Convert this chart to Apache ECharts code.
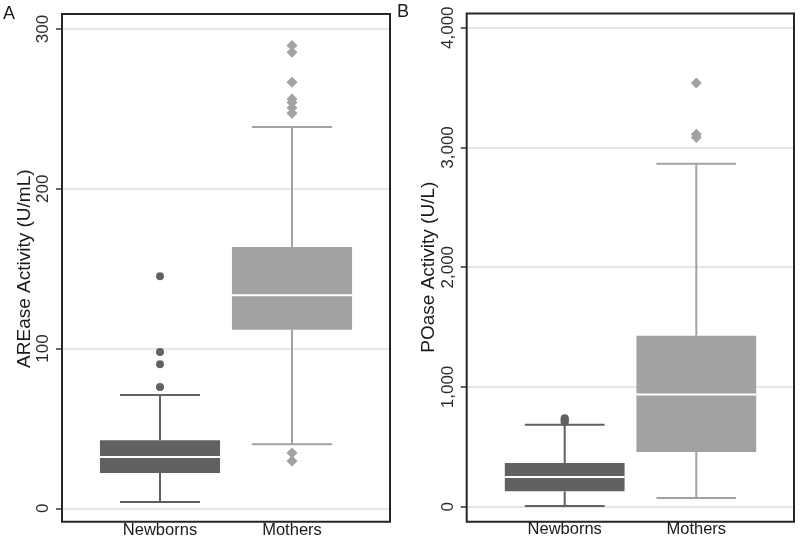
<!DOCTYPE html>
<html>
<head>
<meta charset="utf-8">
<script src="https://cdn.jsdelivr.net/npm/echarts@6/dist/echarts.min.js"></script>
<style>
html,body{margin:0;padding:0;background:#fff;}
#chart{width:800px;height:539px;}
</style>
</head>
<body>
<div id="chart"></div>
<script>
// ---- data ----
const categories = ['Newborns', 'Mothers'];
// [min whisker, Q1, median, Q3, max whisker]
const areaseNewborns = [3.8, 21.9, 31.9, 42.4, 70.8];
const areaseMothers = [39.9, 111.7, 133.2, 163.4, 238.6];
const areaseNewbornsOutliers = [75.8, 90.0, 97.7, 145.1];
const areaseMothersOutliers = [29.4, 34.4, 247.3, 250.7, 254.0, 256.1, 266.6, 285.5, 289.7];

const poaseNewborns = [5, 128, 248, 365, 684];
const poaseMothers = [73, 457, 937, 1427, 2863];
const poaseNewbornsOutliers = [705, 718, 728, 738];
const poaseMothersOutliers = [3083, 3111, 3539];

const areaseTicks = [0, 100, 200, 300];
const poaseTicks = [0, 1000, 2000, 3000, 4000];

const panelLabels = ['A', 'B'];
const yNames = ['AREase Activity (U/mL)', 'POase Activity (U/L)'];

// ---- styles ----
const FONT = '"Liberation Sans", Arial, Helvetica, sans-serif';
const DARK = '#616161';
const LIGHT = '#a2a2a2';
const catColors = [DARK, LIGHT];

function boxRender(params, api) {
  const idx = api.value(0);
  const color = catColors[idx];
  const bw = api.size([1, 0])[0];
  const half = bw * 0.455;
  const cap = bw * 0.303;
  const pLow = api.coord([idx, api.value(1)]);
  const pQ1 = api.coord([idx, api.value(2)]);
  const pMed = api.coord([idx, api.value(3)]);
  const pQ3 = api.coord([idx, api.value(4)]);
  const pHigh = api.coord([idx, api.value(5)]);
  const x = pLow[0];
  const ls = {stroke: color, lineWidth: 2};
  return {
    type: 'group',
    children: [
      {type: 'line', shape: {x1: x, y1: pLow[1], x2: x, y2: pQ1[1]}, style: ls},
      {type: 'line', shape: {x1: x, y1: pQ3[1], x2: x, y2: pHigh[1]}, style: ls},
      {type: 'line', shape: {x1: x - cap, y1: pLow[1], x2: x + cap, y2: pLow[1]}, style: ls},
      {type: 'line', shape: {x1: x - cap, y1: pHigh[1], x2: x + cap, y2: pHigh[1]}, style: ls},
      {type: 'rect', shape: {x: x - half, y: pQ3[1], width: 2 * half, height: pQ1[1] - pQ3[1]}, style: {fill: color}},
      {type: 'line', shape: {x1: x - half, y1: pMed[1], x2: x + half, y2: pMed[1]}, style: {stroke: '#ffffff', lineWidth: 2}}
    ]
  };
}

function boxData(a, b) {
  return [[0].concat(a), [1].concat(b)];
}
function outlierData(idx, arr) {
  return arr.map(v => [idx, v]);
}

const panels = [
  {axisGrid: {left: 62, top: 29, width: 328, height: 479.3},
   dataGrid: {left: 94, top: 29, width: 264, height: 479.3},
   frame: {x: 62, y: 14, width: 328, height: 507.7},
   ticks: areaseTicks, nb: areaseNewborns, mo: areaseMothers,
   nbOut: areaseNewbornsOutliers, moOut: areaseMothersOutliers,
   letterPos: [3, 5]},
  {axisGrid: {left: 466.7, top: 27.7, width: 327.3, height: 479},
   dataGrid: {left: 498.9, top: 27.7, width: 263.2, height: 479},
   frame: {x: 466.7, y: 13.5, width: 327.3, height: 508.2},
   ticks: poaseTicks, nb: poaseNewborns, mo: poaseMothers,
   nbOut: poaseNewbornsOutliers, moOut: poaseMothersOutliers,
   letterPos: [397, 3]}
];

const grid = [], xAxis = [], yAxis = [], series = [], graphic = [];
panels.forEach((p, i) => {
  const tMin = p.ticks[0], tMax = p.ticks[p.ticks.length - 1];
  const tInt = p.ticks[1] - p.ticks[0];
  const ga = grid.length;
  grid.push(p.axisGrid);
  grid.push(p.dataGrid);
  // axis grid
  xAxis.push({gridIndex: ga, type: 'value', show: false, min: 0, max: 1});
  yAxis.push({
    gridIndex: ga, type: 'value', min: tMin, max: tMax, interval: tInt,
    name: yNames[i], nameLocation: 'middle', nameGap: 28, nameRotate: 90,
    nameTextStyle: {fontFamily: FONT, fontSize: 19, color: '#1a1a1a'},
    axisLine: {show: false},
    axisTick: {show: true, length: 6, lineStyle: {color: '#333', width: 1.5}},
    axisLabel: {rotate: 90, margin: 10, fontFamily: FONT, fontSize: 17, color: '#2a2a2a',
      formatter: v => v.toLocaleString('en-US')},
    splitLine: {show: true, lineStyle: {color: '#dedede', width: 1.5}}
  });
  // data grid
  xAxis.push({gridIndex: ga + 1, type: 'category', data: categories,
    axisLine: {show: false}, axisTick: {show: false},
    axisLabel: {margin: 14, fontFamily: FONT, fontSize: 16.5, color: '#1a1a1a'}});
  yAxis.push({gridIndex: ga + 1, type: 'value', min: tMin, max: tMax, show: false, splitLine: {show: false}});
  series.push({
    type: 'custom', xAxisIndex: ga + 1, yAxisIndex: ga + 1,
    renderItem: boxRender, data: boxData(p.nb, p.mo), z: 3
  });
  series.push({
    type: 'scatter', xAxisIndex: ga + 1, yAxisIndex: ga + 1,
    symbol: 'circle', symbolSize: 8, itemStyle: {color: DARK, opacity: 1},
    data: outlierData(0, p.nbOut), z: 4
  });
  series.push({
    type: 'scatter', xAxisIndex: ga + 1, yAxisIndex: ga + 1,
    symbol: 'diamond', symbolSize: 11, itemStyle: {color: LIGHT, opacity: 1},
    data: outlierData(1, p.moOut), z: 4
  });
  graphic.push({type: 'rect', shape: p.frame, z: 100, silent: true,
    style: {fill: null, stroke: '#262626', lineWidth: 2}});
  graphic.push({type: 'text', left: p.letterPos[0], top: p.letterPos[1], z: 100,
    style: {text: panelLabels[i], font: '18px ' + FONT, fill: '#1a1a1a'}});
});

const chart = echarts.init(document.getElementById('chart'), null, {renderer: 'canvas'});
chart.setOption({
  animation: false,
  backgroundColor: '#ffffff',
  grid, xAxis, yAxis, series, graphic
});
</script>
</body>
</html>
